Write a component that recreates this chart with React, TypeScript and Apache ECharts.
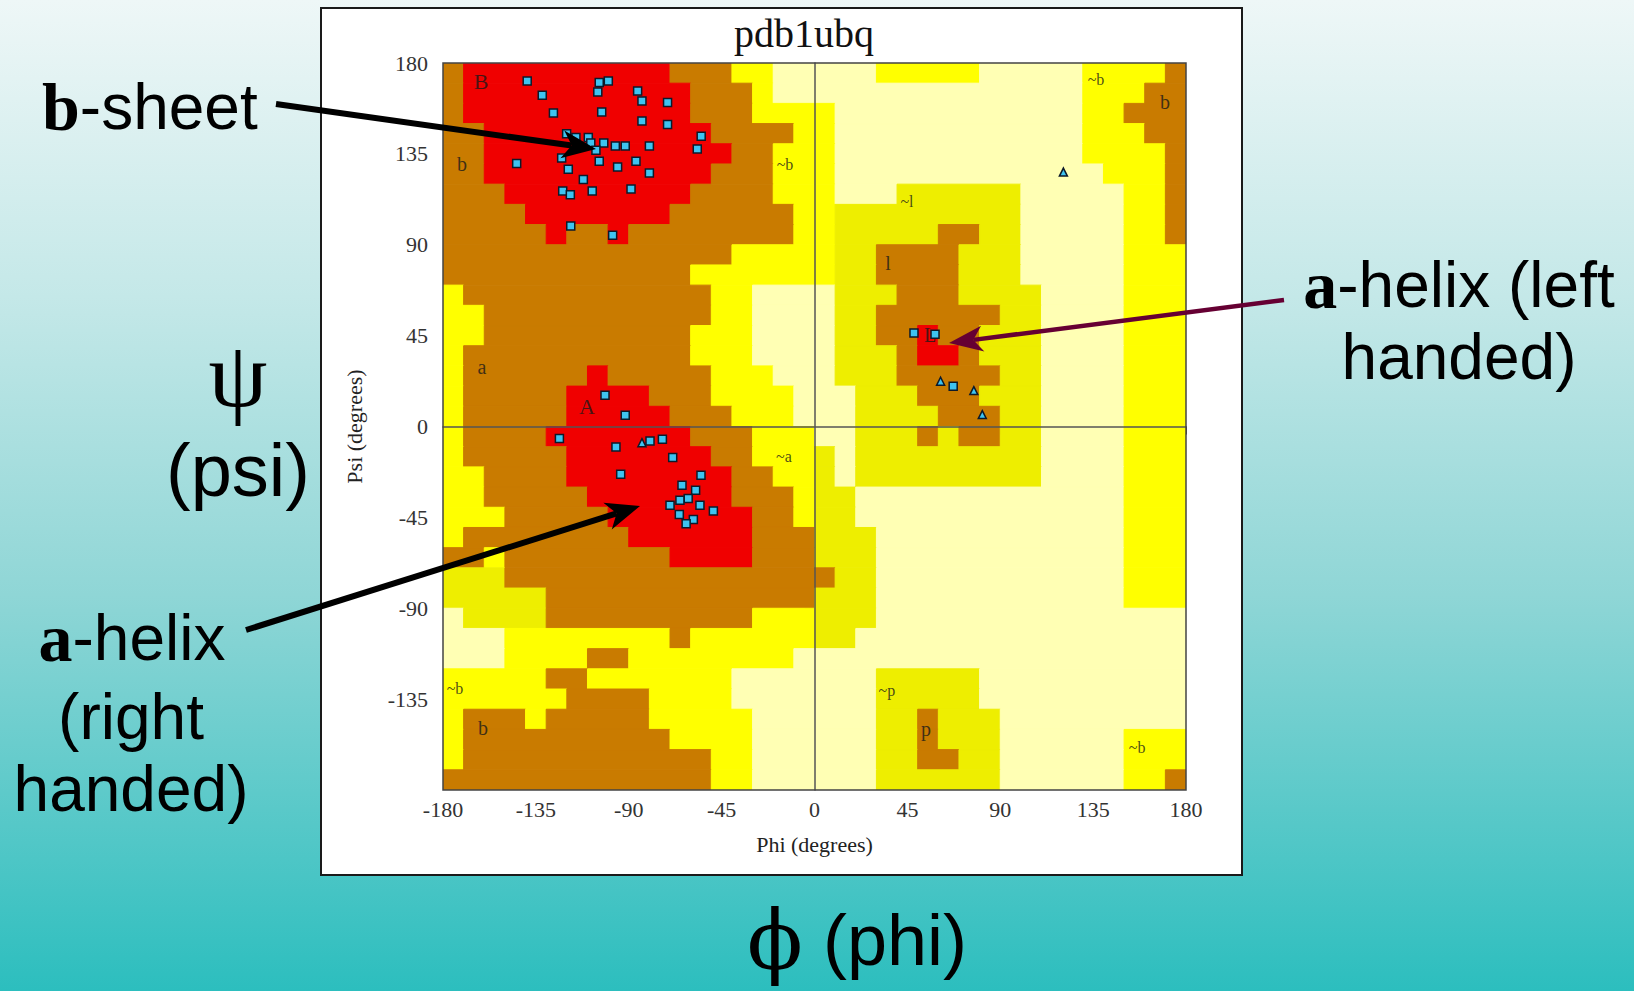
import React, { useEffect, useRef } from "react";
import * as echarts from "echarts";

const ANGLE_MIN = -180;
const ANGLE_MAX = 180;
const TICK_INTERVAL = 45;
const CELL_DEG = 10;

// Ramachandran region map, one run-length row per 10° psi band (psi 180 at top).
// R = most favoured, b = additional allowed, Y / y = generously allowed, . = disallowed
const regionRows: string[] = [
  "b1 R10 b3 Y2 .5 Y5 .5 Y4 b1",
  "b1 R11 b3 Y1 .15 Y3 b2",
  "b1 R11 b3 Y4 .12 Y2 b3",
  "b2 R11 b4 Y2 .12 Y3 b2",
  "b2 R12 b2 Y3 .12 Y4 b1",
  "b2 R11 b3 Y3 .13 Y3 b1",
  "b3 R9 b4 Y3 .3 y6 .5 Y2 b1",
  "b4 R7 b6 Y2 y9 .5 Y2 b1",
  "b5 R1 b2 R1 b8 Y2 y5 b2 y2 .5 Y2 b1",
  "b14 Y5 y2 b4 y3 .5 Y3",
  "b12 Y7 y2 b4 y3 .5 Y3",
  "Y1 b12 Y2 .4 y3 b3 y4 .4 Y3",
  "Y2 b11 Y2 .4 y2 b6 y2 .4 Y3",
  "Y2 b10 Y3 .4 y2 b2 R1 b2 y3 .4 Y3",
  "Y1 b11 Y3 .4 y3 b1 R2 b1 y3 .4 Y3",
  "Y1 b6 R1 b5 Y3 .3 y3 b5 y2 .4 Y3",
  "Y1 b5 R4 b3 Y4 .3 y3 b3 y3 .4 Y3",
  "Y1 b5 R5 b3 Y3 .3 y4 b3 y2 .4 Y3",
  "Y1 b4 R7 b3 Y3 .2 y3 b1 y1 b2 y2 .4 Y3",
  "Y1 b5 R7 b2 Y3 y1 .1 y9 .4 Y3",
  "Y2 b4 R8 b2 Y2 y1 .1 y9 .4 Y3",
  "Y2 b5 R7 b3 Y1 y2 .13 Y3",
  "Y3 b5 R7 b2 Y1 y2 .13 Y3",
  "Y1 b8 R6 b3 y3 .12 Y3",
  "b2 Y1 b8 R4 b3 y3 .12 Y3",
  "y3 b16 y2 .12 Y3",
  "y5 b13 y3 .12 Y3",
  ".1 y4 b10 Y3 y3 .15",
  ".3 Y8 b1 Y6 y2 .16",
  ".3 Y4 b2 Y8 .19",
  "Y5 b2 Y7 .7 y5 .10",
  "Y6 b4 Y4 .7 y5 .10",
  "Y1 b3 Y1 b5 Y5 .6 y2 b1 y3 .9",
  "Y1 b10 Y4 .6 y2 b1 y3 .6 Y3",
  "Y1 b12 Y2 .6 y2 b2 y2 .6 Y3",
  "b13 Y2 .6 y6 .6 Y2 b1",
];

const regionColors: Record<string, string> = {
  R: "#F00000",
  b: "#C97B00",
  Y: "#FFFF00",
  y: "#EEEE00",
  ".": "#FFFFB4",
};

// residues (squares)
const residuePhi = [
  -139.2, -131.9, -104.3, -99.9, -105.0, -126.5, -103.1, -85.7, -83.6, -71.2,
  -83.6, -71.2, -120.1, -115.6, -109.6, -108.4, -102.1, -96.5, -91.7, -80.0,
  -105.9, -122.5, -144.3, -104.3, -119.3, -95.4, -86.5, -80.0, -112.0, -122.0,
  -118.3, -107.7, -88.9, -118.1, -97.8, -56.8, -54.9,
  -101.5, -91.7, -123.6, -96.2, -79.7, -73.7, -68.7, -93.9, -64.2, -55.0,
  -57.6, -61.2, -55.5, -49.0, -58.7, -62.2, -65.5, -70.0, -65.2,
  48.2, 58.4, 67.2,
];
const residuePsi = [
  171.1, 164.0, 170.3, 171.1, 165.6, 155.2, 155.7, 166.1, 161.2, 160.4,
  151.3, 149.6, 145.0, 143.1, 143.1, 140.4, 140.4, 138.9, 138.9, 138.9,
  136.8, 133.0, 130.2, 131.3, 127.4, 128.5, 131.3, 125.5, 122.3, 116.6,
  114.8, 116.6, 117.6, 99.3, 94.7, 137.4, 143.7,
  15.5, 5.6, -6.0, -10.2, -7.2, -6.3, -15.4, -23.7, -29.1, -24.2,
  -31.6, -35.7, -39.0, -41.8, -46.1, -48.1, -43.6, -39.0, -36.5,
  46.3, 45.7, 19.9,
];
// glycines (triangles)
const glycinePhi = [-83.6, 61.1, 77.2, 81.3, 120.6];
const glycinePsi = [-8.0, 22.4, 17.8, 5.9, 126.0];

const regionLabelTexts = ["B", "b", "a", "A", "~b", "~l", "l", "L", "~a", "~b", "b", "~b", "b", "~p", "p", "~b"];
const regionLabelPhi = [-161.6, -170.8, -161.1, -110.2, -14.3, 44.8, 35.6, 56, -14.8, 136.4, 169.8, -174.2, -160.6, 35.1, 54, 156.3];
const regionLabelPsi = [170.9, 129.8, 29.3, 10, 129.8, 111.5, 80.8, 45.2, -14.7, 172, 160.5, -129.6, -149.4, -130.6, -149.9, -158.9];

const TITLE = "pdb1ubq";

const regionRuns: number[][] = [];
const runCodes: string[] = [];
regionRows.forEach((rle, r) => {
  const psiTop = ANGLE_MAX - r * CELL_DEG;
  const psiBottom = psiTop - CELL_DEG;
  let phi = ANGLE_MIN;
  rle.trim().split(/\s+/).forEach((tok) => {
    const code = tok[0];
    const n = parseInt(tok.slice(1), 10);
    regionRuns.push([phi, phi + n * CELL_DEG, psiBottom, psiTop]);
    runCodes.push(code);
    phi += n * CELL_DEG;
  });
});

function arrow(x1: number, y1: number, x2: number, y2: number, color: string, w: number, hl: number, hw: number) {
  const dx = x2 - x1, dy = y2 - y1;
  const L = Math.hypot(dx, dy);
  const ux = dx / L, uy = dy / L;
  const px = -uy, py = ux;
  const bx = x2 - ux * hl, by = y2 - uy * hl;
  const nx = x2 - ux * hl * 0.72, ny = y2 - uy * hl * 0.72;
  return [
    { type: "line", z: 100, shape: { x1, y1, x2: nx, y2: ny }, style: { stroke: color, lineWidth: w } },
    {
      type: "polygon", z: 100,
      shape: { points: [[x2, y2], [bx + px * hw, by + py * hw], [nx, ny], [bx - px * hw, by - py * hw]] },
      style: { fill: color },
    },
  ];
}

function txt(x: number, y: number, text: string, size: number, family = "Liberation Sans", extra: any = {}) {
  return {
    type: "text", z: 100, x, y,
    style: {
      text, fill: "#000", fontSize: size, fontFamily: family,
      align: "center", verticalAlign: "middle", textAlign: "center", textVerticalAlign: "middle",
      ...extra,
    },
  };
}

export default function App() {
  const ref = useRef<HTMLDivElement>(null);
  useEffect(() => {
    if (!ref.current) return;
    const chart = echarts.init(ref.current, undefined, { renderer: "svg" });
    const axisFont = { fontFamily: "Liberation Serif", fontSize: 22, color: "#333" };
    const greek = {
      g: { fontFamily: "Liberation Serif", fontWeight: "bold", fontSize: 68, fill: "#000" },
      n: { fontFamily: "Liberation Sans", fontSize: 64, fill: "#000" },
    };
    chart.setOption({
      animation: false,
      grid: {
        left: 443, top: 63, width: 743, height: 727,
        show: true, borderColor: "#444", borderWidth: 1.5, backgroundColor: "transparent", z: 10,
      },
      xAxis: {
        type: "value", min: ANGLE_MIN, max: ANGLE_MAX, interval: TICK_INTERVAL,
        axisLine: { show: true, lineStyle: { color: "#444", width: 1.5 } },
        axisTick: { show: true, length: 8, lineStyle: { color: "#444" } },
        axisLabel: { ...axisFont, margin: 8, showMinLabel: true, showMaxLabel: true },
        splitLine: { show: false },
        name: "Phi (degrees)", nameLocation: "middle", nameGap: 43,
        nameTextStyle: { fontFamily: "Liberation Serif", fontSize: 22, color: "#222" },
      },
      yAxis: {
        type: "value", min: ANGLE_MIN, max: ANGLE_MAX, interval: TICK_INTERVAL,
        axisLine: { show: true, lineStyle: { color: "#444", width: 1.5 } },
        axisTick: { show: true, length: 10, lineStyle: { color: "#444" } },
        axisLabel: { ...axisFont, margin: 15, showMinLabel: false, showMaxLabel: true },
        splitLine: { show: false },
        name: "Psi (degrees)", nameLocation: "middle", nameGap: 78, nameRotate: 90,
        nameTextStyle: { fontFamily: "Liberation Serif", fontSize: 22, color: "#222" },
      },
      series: [
        {
          type: "custom", clip: true, z: 1, silent: true,
          data: regionRuns,
          encode: { x: [0, 1], y: [2, 3] },
          renderItem: (params: any, api: any) => {
            const tl = api.coord([api.value(0), api.value(3)]);
            const br = api.coord([api.value(1), api.value(2)]);
            const c = regionColors[runCodes[params.dataIndex]];
            return {
              type: "rect",
              shape: { x: tl[0], y: tl[1], width: br[0] - tl[0], height: br[1] - tl[1] },
              style: { fill: c, stroke: c, lineWidth: 1 },
            };
          },
          markLine: {
            silent: true, symbol: ["none", "none"], label: { show: false },
            lineStyle: { color: "#555", width: 1.5, type: "solid" },
            data: [{ xAxis: 0 }, { yAxis: 0 }],
          },
        },
        {
          type: "scatter", z: 4, silent: true, symbolSize: 0,
          data: regionLabelTexts.map((t, i) => ({
            value: [regionLabelPhi[i], regionLabelPsi[i]],
            label: {
              show: true, position: "inside", formatter: t,
              fontFamily: "Liberation Serif", color: "#1a1a1a",
              fontSize: t === "A" || t === "B" ? 22 : t.length === 1 ? 20 : 16,
            },
          })),
        },
        {
          type: "scatter", z: 6, symbol: "rect", symbolSize: 8,
          itemStyle: { color: "#3EC3F0", borderColor: "#0c1a2a", borderWidth: 1.5, opacity: 1 },
          data: residuePhi.map((p, i) => [p, residuePsi[i]]),
        },
        {
          type: "scatter", z: 6, symbol: "triangle", symbolSize: 8,
          itemStyle: { color: "#3EC3F0", borderColor: "#0c1a2a", borderWidth: 1.5, opacity: 1 },
          data: glycinePhi.map((p, i) => [p, glycinePsi[i]]),
        },
      ],
      graphic: [
        {
          type: "rect", z: -1, shape: { x: 321, y: 8, width: 921, height: 867 },
          style: { fill: "#FFFFFF", stroke: "#1a1a1a", lineWidth: 2 },
        },
        txt(804, 33, TITLE, 40, "Liberation Serif", { fill: "#111" }),
        {
          type: "text", z: 100, x: 42, y: 107,
          style: {
            text: "{g|b}{n|-sheet}", rich: greek,
            align: "left", verticalAlign: "middle", textAlign: "left", textVerticalAlign: "middle",
          },
        },
        ...arrow(276, 104, 596, 149, "#000", 6, 34, 14),
        txt(238, 374, "ψ", 94, "Liberation Serif"),
        txt(238, 470, "(psi)", 74),
        {
          type: "text", z: 100, x: 1459, y: 285,
          style: {
            text: "{g|a}{n|-helix (left}", rich: greek,
            align: "center", verticalAlign: "middle", textAlign: "center", textVerticalAlign: "middle",
          },
        },
        txt(1459, 357, "handed)", 64),
        ...arrow(1284, 300, 949, 343, "#660033", 4.5, 34, 13),
        {
          type: "text", z: 100, x: 132, y: 638,
          style: {
            text: "{g|a}{n|-helix}", rich: greek,
            align: "center", verticalAlign: "middle", textAlign: "center", textVerticalAlign: "middle",
          },
        },
        txt(131, 717, "(right", 64),
        txt(131, 789, "handed)", 64),
        ...arrow(246, 630, 640, 506, "#000", 6, 34, 14),
        {
          type: "text", z: 100, x: 857, y: 940,
          style: {
            text: "{p|ϕ}{n| (phi)}",
            rich: {
              p: { fontFamily: "DejaVu Serif", fontSize: 82, fill: "#000" },
              n: { fontFamily: "Liberation Sans", fontSize: 72, fill: "#000" },
            },
            align: "center", verticalAlign: "middle", textAlign: "center", textVerticalAlign: "middle",
          },
        },
      ],
    });
    return () => chart.dispose();
  }, []);
  return (
    <div
      ref={ref}
      style={{
        position: "absolute", left: 0, top: 0, width: 1634, height: 991,
        background: "linear-gradient(180deg, #EEF7F7 0%, #C4E8E8 30%, #8FD6D6 60%, #2CBEBE 100%)",
      }}
    />
  );
}
